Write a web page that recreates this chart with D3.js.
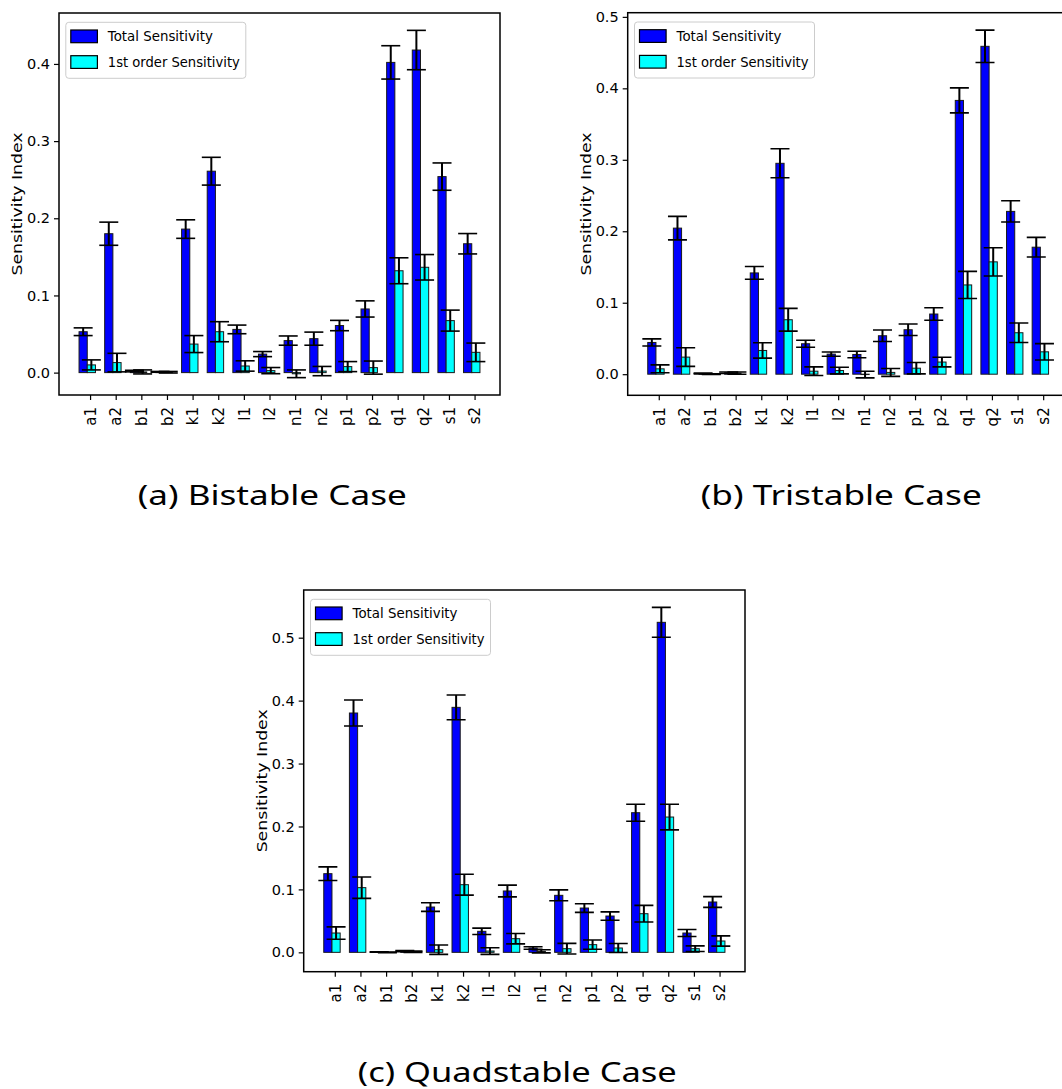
<!DOCTYPE html>
<html>
<head>
<meta charset="utf-8">
<script src="https://cdn.jsdelivr.net/npm/d3@7"></script>
<style>
  html, body { margin: 0; padding: 0; background: #fff; }
  svg { display: block; }
  text { font-family: "DejaVu Sans", sans-serif; fill: #000; }
  .caption { font-family: "Noto Sans", "Open Sans", "DejaVu Sans", sans-serif; font-weight: 400; }
</style>
</head>
<body>
<svg id="fig" width="1062" height="1089"></svg>
<script>
// Model parameters on the x axis
const params = ["a1","a2","b1","b2","k1","k2","l1","l2","n1","n2","p1","p2","q1","q2","s1","s2"];

// Series labels
const seriesNames = ["Total Sensitivity", "1st order Sensitivity"];

// (a) Bistable case
const bistableTotal    = [0.053, 0.180, 0.002, 0.001, 0.186, 0.261, 0.056, 0.024, 0.0415, 0.044, 0.061, 0.0825, 0.402, 0.418, 0.254, 0.167];
const bistableTotalErr = [0.005, 0.015, 0.001, 0.0005, 0.012, 0.018, 0.0056, 0.0033, 0.006, 0.0085, 0.0067, 0.0105, 0.0216, 0.0255, 0.0177, 0.0132];
const bistableFirst    = [0.010, 0.013, 0.0009, 0.0005, 0.037, 0.053, 0.0086, 0.0026, -0.0015, 0.002, 0.0078, 0.0065, 0.132, 0.1365, 0.0674, 0.0263];
const bistableFirstErr = [0.0065, 0.012, 0.0026, 0.001, 0.011, 0.013, 0.0067, 0.004, 0.005, 0.006, 0.0065, 0.0085, 0.0168, 0.0165, 0.0136, 0.012];

// (b) Tristable case
const tristableTotal    = [0.0444, 0.2044, 0.001, 0.002, 0.1417, 0.2951, 0.0426, 0.0281, 0.0276, 0.0538, 0.0622, 0.0842, 0.3831, 0.4588, 0.2278, 0.1777];
const tristableTotalErr = [0.005, 0.0164, 0.0005, 0.001, 0.0089, 0.0203, 0.005, 0.003, 0.0045, 0.008, 0.008, 0.0087, 0.0175, 0.0227, 0.0148, 0.0138];
const tristableFirst    = [0.0075, 0.0239, 0.0, 0.0015, 0.0332, 0.0762, 0.0042, 0.0051, -0.0005, 0.0025, 0.0084, 0.017, 0.1249, 0.1572, 0.058, 0.0313];
const tristableFirstErr = [0.0055, 0.013, 0.0005, 0.0015, 0.0107, 0.0159, 0.006, 0.0047, 0.0047, 0.0055, 0.008, 0.0068, 0.019, 0.0197, 0.0136, 0.0115];

// (c) Quadstable case
const quadstableTotal    = [0.125, 0.3803, 0.0005, 0.002, 0.072, 0.3893, 0.0334, 0.0975, 0.0069, 0.0906, 0.0704, 0.0577, 0.2219, 0.5244, 0.0307, 0.080];
const quadstableTotalErr = [0.0108, 0.0207, 0.0003, 0.0008, 0.0069, 0.0196, 0.005, 0.0093, 0.002, 0.0087, 0.0069, 0.0066, 0.0135, 0.0238, 0.0056, 0.0085];
const quadstableFirst    = [0.0307, 0.1028, 0.0, 0.001, 0.0042, 0.1075, 0.0021, 0.0217, 0.0016, 0.0058, 0.0122, 0.0069, 0.0614, 0.215, 0.0058, 0.018];
const quadstableFirstErr = [0.0098, 0.017, 0.0005, 0.001, 0.0074, 0.0166, 0.0053, 0.0082, 0.0024, 0.0085, 0.0074, 0.0072, 0.0133, 0.0204, 0.0045, 0.0082];

// Y tick values per panel
const ticksBistable   = [0.0, 0.1, 0.2, 0.3, 0.4];
const ticksTristable  = [0.0, 0.1, 0.2, 0.3, 0.4, 0.5];
const ticksQuadstable = [0.0, 0.1, 0.2, 0.3, 0.4, 0.5];

// Captions
const captions = ["(a) Bistable Case", "(b) Tristable Case", "(c) Quadstable Case"];

// ---- layout ----
const panels = [
  { total: bistableTotal, totalErr: bistableTotalErr, first: bistableFirst, firstErr: bistableFirstErr,
    ticks: ticksBistable, caption: captions[0],
    box: { left: 59, top: 13, right: 500, bottom: 395 }, cap: { x: 272.3, y: 505, len: 269 } },
  { total: tristableTotal, totalErr: tristableTotalErr, first: tristableFirst, firstErr: tristableFirstErr,
    ticks: ticksTristable, caption: captions[1],
    box: { left: 627.7, top: 12.7, right: 1068.6, bottom: 395.3 }, cap: { x: 841.3, y: 505, len: 281 } },
  { total: quadstableTotal, totalErr: quadstableTotalErr, first: quadstableFirst, firstErr: quadstableFirstErr,
    ticks: ticksQuadstable, caption: captions[2],
    box: { left: 303.7, top: 590, right: 745, bottom: 971.7 }, cap: { x: 517.3, y: 1081.5, len: 319 } }
];

const barW = 0.32;          // bar width in category units
const offTotal = -0.27;     // centre offset of the total-index bar
const offFirst = 0.05;      // centre offset of the first-order bar
const colors = ["#0000ff", "#00ffff"];
const capHalf = 9.5;        // half-length of the error-bar caps (px)

const svg = d3.select("#fig");

panels.forEach(p => {
  const b = p.box;
  const g = svg.append("g");

  // x extent including a 5% margin, like an autoscaled axis
  const xLo = offTotal - barW / 2, xHi = params.length - 1 + offFirst + barW / 2;
  const xPad = 0.05 * (xHi - xLo);
  const x = d3.scaleLinear().domain([xLo - xPad, xHi + xPad]).range([b.left, b.right]);

  const allVals = [0];
  params.forEach((_, i) => {
    allVals.push(p.total[i] + p.totalErr[i], p.total[i] - p.totalErr[i],
                 p.first[i] + p.firstErr[i], p.first[i] - p.firstErr[i]);
  });
  const yLo = d3.min(allVals), yHi = d3.max(allVals);
  const yPad = 0.05 * (yHi - yLo);
  const y = d3.scaleLinear().domain([yLo - yPad, yHi + yPad]).range([b.bottom, b.top]);

  const series = [
    { vals: p.total, errs: p.totalErr, off: offTotal, color: colors[0] },
    { vals: p.first, errs: p.firstErr, off: offFirst, color: colors[1] }
  ];

  const clipId = "clip" + Math.round(b.left);
  svg.append("clipPath").attr("id", clipId)
    .append("rect").attr("x", b.left).attr("y", b.top)
    .attr("width", b.right - b.left).attr("height", b.bottom - b.top);
  const plot = g.append("g").attr("clip-path", `url(#${clipId})`);

  // bars
  series.forEach(s => {
    plot.selectAll(null).data(params).enter().append("rect")
      .attr("x", (d, i) => x(i + s.off - barW / 2))
      .attr("width", (d, i) => x(i + s.off + barW / 2) - x(i + s.off - barW / 2))
      .attr("y", (d, i) => Math.min(y(s.vals[i]), y(0)))
      .attr("height", (d, i) => Math.abs(y(0) - y(s.vals[i])))
      .attr("fill", s.color)
      .attr("stroke", "#1a1a1a")
      .attr("stroke-width", 1);
  });

  // error bars
  series.forEach(s => {
    const eg = plot.selectAll(null).data(params).enter().append("g")
      .attr("stroke", "#000");
    eg.append("line")
      .attr("x1", (d, i) => x(i + s.off)).attr("x2", (d, i) => x(i + s.off))
      .attr("y1", (d, i) => y(s.vals[i] - s.errs[i]))
      .attr("y2", (d, i) => y(s.vals[i] + s.errs[i]))
      .attr("stroke-width", 2);
    [-1, 1].forEach(sign => {
      eg.append("line")
        .attr("x1", (d, i) => x(i + s.off) - capHalf)
        .attr("x2", (d, i) => x(i + s.off) + capHalf)
        .attr("y1", (d, i) => y(s.vals[i] + sign * s.errs[i]))
        .attr("y2", (d, i) => y(s.vals[i] + sign * s.errs[i]))
        .attr("stroke-width", 1.6);
    });
  });

  // y axis
  const yAxis = d3.axisLeft(y).tickValues(p.ticks).tickFormat(d3.format(".1f"))
    .tickSize(5).tickPadding(4);
  const ya = g.append("g").attr("transform", `translate(${b.left},0)`).call(yAxis);
  ya.select(".domain").remove();
  ya.selectAll(".tick line").attr("stroke", "#000").attr("stroke-width", 1.2);
  ya.selectAll(".tick text").attr("font-size", 14.5).attr("font-family", "DejaVu Sans");

  // x axis
  const xAxis = d3.axisBottom(x).tickValues(d3.range(params.length))
    .tickFormat(i => params[i]).tickSize(5).tickPadding(0);
  const xa = g.append("g").attr("transform", `translate(0,${b.bottom})`).call(xAxis);
  xa.select(".domain").remove();
  xa.selectAll(".tick line").attr("stroke", "#000").attr("stroke-width", 1.2);
  xa.selectAll(".tick text")
    .attr("font-size", 15).attr("font-family", "DejaVu Sans")
    .attr("transform", "rotate(-90)")
    .attr("text-anchor", "end")
    .attr("dy", "0.35em")
    .attr("x", -12).attr("y", 0);

  // frame
  g.append("rect")
    .attr("x", b.left).attr("y", b.top)
    .attr("width", b.right - b.left).attr("height", b.bottom - b.top)
    .attr("fill", "none").attr("stroke", "#000").attr("stroke-width", 1.5);

  // y label
  g.append("text")
    .attr("transform", `translate(${b.left - 42},${(b.top + b.bottom) / 2}) rotate(-90)`)
    .attr("text-anchor", "middle").attr("dy", "0.35em")
    .attr("font-size", 14.5)
    .attr("textLength", 143).attr("lengthAdjust", "spacingAndGlyphs")
    .text("Sensitivity Index");

  // legend
  const lg = g.append("g").attr("transform", `translate(${b.left + 6.8},${b.top + 9.3})`);
  lg.append("rect").attr("width", 180).attr("height", 56).attr("rx", 3)
    .attr("fill", "#fff").attr("fill-opacity", 0.85)
    .attr("stroke", "#cccccc").attr("stroke-width", 1);
  seriesNames.forEach((name, k) => {
    const cy = 14 + k * 25.7;
    lg.append("rect").attr("x", 5).attr("y", cy - 6.3).attr("width", 26.6).attr("height", 12.7)
      .attr("fill", colors[k]).attr("stroke", "#000").attr("stroke-width", 1.2);
    lg.append("text").attr("x", 42).attr("y", cy).attr("dy", "0.35em")
      .attr("font-size", 14.5)
      .attr("textLength", k === 0 ? 105 : 132).attr("lengthAdjust", "spacingAndGlyphs")
      .text(name);
  });

  // caption
  svg.append("text").attr("class", "caption")
    .attr("x", p.cap.x).attr("y", p.cap.y)
    .attr("text-anchor", "middle")
    .attr("font-size", 27)
    .attr("textLength", p.cap.len).attr("lengthAdjust", "spacingAndGlyphs")
    .text(p.caption);
});
</script>
</body>
</html>
